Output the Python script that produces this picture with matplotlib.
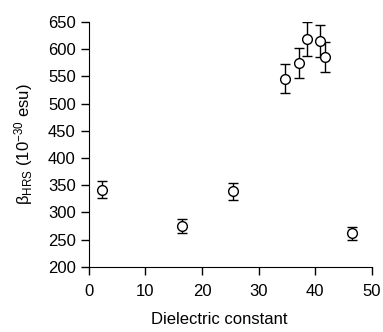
import matplotlib
matplotlib.use("Agg")
import matplotlib.pyplot as plt

plt.rcParams['font.family'] = ['Liberation Sans', 'DejaVu Sans']
plt.rcParams['mathtext.fontset'] = 'custom'
plt.rcParams['mathtext.rm'] = 'Liberation Sans'
plt.rcParams['mathtext.it'] = 'Liberation Sans:italic'

# dielectric constant vs beta_HRS, with error bars
dielectric = [2.4, 16.4, 25.5, 34.7, 37.1, 38.5, 40.9, 41.8, 46.5]
beta_hrs = [342, 275, 339, 546, 575, 618, 615, 586, 262]
beta_err = [16, 13, 16, 27, 28, 31, 30, 28, 12]

xticks = [0, 10, 20, 30, 40, 50]
yticks = [200, 250, 300, 350, 400, 450, 500, 550, 600, 650]

fig = plt.figure(figsize=(3.83, 3.32), dpi=100)
ax = fig.add_axes([0.232, 0.196, 0.739, 0.738])

ax.errorbar(dielectric, beta_hrs, yerr=beta_err, fmt='o', color='black',
            mfc='white', mec='black', ms=7, mew=1.0, elinewidth=1.0,
            capsize=3.5, capthick=1.0, zorder=3)

ax.set_xlim(0, 50)
ax.set_ylim(200, 650)
ax.set_xticks(xticks)
ax.set_yticks(yticks)
ax.spines['top'].set_visible(False)
ax.spines['right'].set_visible(False)
ax.tick_params(direction='out', length=6, width=1, labelsize=12)
ax.tick_params(axis='x', pad=6)

ax.set_xlabel("Dielectric constant", fontsize=12)
ax.xaxis.set_label_coords(0.46, -0.185)
ax.set_ylabel(u"\u03b2$_{\\mathrm{HRS}}$ (10$^{-30}$ esu)", fontsize=12, labelpad=9)

fig.savefig("out.png", dpi=100)
